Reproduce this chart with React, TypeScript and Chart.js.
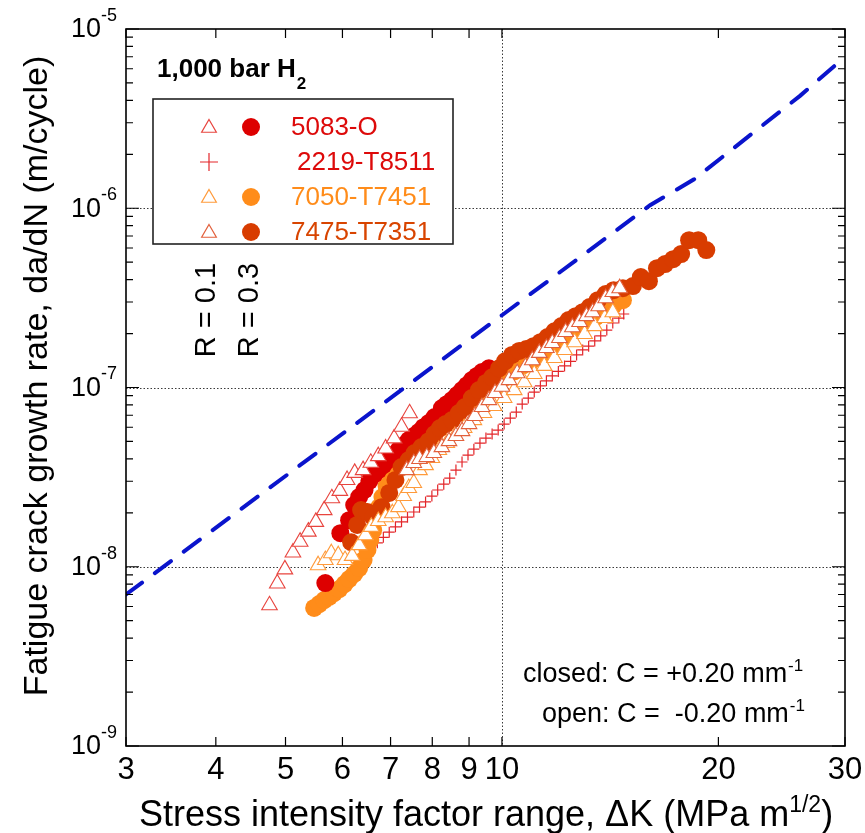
import React, { useEffect, useRef } from "react";
import { Chart, registerables } from "chart.js";

Chart.register(...registerables);

const FONT = '"Liberation Sans", Arial, Helvetica, sans-serif';

// ---- axis ticks ----
const xTickValues = [3, 4, 5, 6, 7, 8, 9, 10, 20, 30];
const xTickLabels = ["3", "4", "5", "6", "7", "8", "9", "10", "20", "30"];
const yDecades = [-9, -8, -7, -6, -5];
const yMinorMultipliers = [2, 3, 4, 5, 6, 7, 8, 9];
const yGridDecades = [-8, -7, -6];
const xGridValues = [10];

// ---- reference line (dashed blue) ----
const refLineK = [3, 10, 16.07, 18.5, 26, 30];
const refLineRate = [7.0e-9, 2.53e-7, 1.04e-6, 1.45e-6, 4.25e-6, 7.0e-6];

// ---- 5083-O ----
const k5083R01 = [4.75, 4.87, 4.99, 5.12, 5.24, 5.38, 5.51, 5.66, 5.8, 5.95, 6.09, 6.24, 6.41, 6.57, 6.73, 6.89, 7.08, 7.25, 7.44];
const rate5083R01 = [6.1e-9, 8.07e-9, 9.67e-9, 1.2e-8, 1.38e-8, 1.57e-8, 1.78e-8, 2.07e-8, 2.41e-8, 2.65e-8, 3.05e-8, 3.34e-8, 3.46e-8, 3.8e-8, 4.14e-8, 4.57e-8, 5.2e-8, 6.04e-8, 7.18e-8];
const k5083R03 = [5.68, 5.96, 6.13, 6.23, 6.33, 6.44, 6.54, 6.65, 6.73, 6.84, 6.95, 7.07, 7.18, 7.3, 7.42, 7.54, 7.66, 7.78, 7.91, 8.06, 8.25, 8.38, 8.52, 8.66, 8.8, 8.94, 9.08, 9.23, 9.38, 9.59];
const rate5083R03 = [8.11e-9, 1.54e-8, 1.82e-8, 2.21e-8, 2.45e-8, 2.68e-8, 3.01e-8, 3.29e-8, 3.46e-8, 3.69e-8, 3.94e-8, 4.2e-8, 4.48e-8, 4.77e-8, 5.09e-8, 5.36e-8, 5.64e-8, 6.01e-8, 6.33e-8, 6.84e-8, 7.68e-8, 8.07e-8, 8.51e-8, 9.07e-8, 9.67e-8, 1.03e-7, 1.1e-7, 1.16e-7, 1.22e-7, 1.28e-7];

// ---- 2219-T8511 (R = 0.1) ----
const k2219R01 = [6.71, 6.84, 6.97, 7.11, 7.25, 7.39, 7.54, 7.68, 7.83, 7.99, 8.14, 8.3, 8.46, 8.63, 8.8, 8.97, 9.14, 9.32, 9.5, 9.69, 9.88, 10.07, 10.27, 10.47, 10.67, 10.88, 11.09, 11.31, 11.53, 11.75, 11.98, 12.22, 12.46, 12.7, 12.95, 13.2, 13.46, 13.72, 13.99, 14.26, 14.54, 14.77];
const rate2219R01 = [1.36e-8, 1.46e-8, 1.56e-8, 1.67e-8, 1.78e-8, 1.89e-8, 2.02e-8, 2.15e-8, 2.3e-8, 2.48e-8, 2.68e-8, 2.89e-8, 3.12e-8, 3.46e-8, 3.84e-8, 4.2e-8, 4.53e-8, 4.9e-8, 5.22e-8, 5.5e-8, 5.79e-8, 6.25e-8, 6.75e-8, 7.29e-8, 8.08e-8, 8.73e-8, 9.43e-8, 1.02e-7, 1.09e-7, 1.16e-7, 1.23e-7, 1.32e-7, 1.4e-7, 1.52e-7, 1.62e-7, 1.7e-7, 1.82e-7, 1.94e-7, 2.09e-7, 2.29e-7, 2.44e-7, 2.57e-7];

// ---- 7050-T7451 ----
const k7050R01 = [5.55, 5.68, 5.79, 5.92, 6.05, 6.19, 6.33, 6.46, 6.58, 6.73, 6.89, 7.04, 7.18, 7.3, 7.42, 7.54, 7.68, 7.83, 7.99, 8.17, 8.38, 8.6, 8.86, 9.14, 9.44, 9.75, 10.07, 10.4, 10.74, 11.09, 11.45, 11.83, 12.22, 12.62, 13.03, 13.46, 13.9, 14.26];
const rate7050R01 = [1.02e-8, 1.09e-8, 1.19e-8, 1.16e-8, 1.09e-8, 1.15e-8, 1.32e-8, 1.5e-8, 1.67e-8, 1.8e-8, 1.89e-8, 1.99e-8, 2.15e-8, 2.48e-8, 2.75e-8, 2.93e-8, 3.46e-8, 3.69e-8, 4.04e-8, 4.48e-8, 4.9e-8, 5.36e-8, 5.94e-8, 6.58e-8, 7.2e-8, 7.88e-8, 8.73e-8, 9.67e-8, 1.07e-7, 1.19e-7, 1.32e-7, 1.46e-7, 1.62e-7, 1.79e-7, 1.99e-7, 2.2e-7, 2.44e-7, 2.63e-7];
const k7050R03 = [5.48, 5.57, 5.66, 5.75, 5.84, 5.94, 6.04, 6.13, 6.23, 6.33, 6.42, 6.5, 6.56, 6.62, 6.69, 6.75, 6.82, 6.91, 7.02, 7.16, 7.3, 7.49, 7.66, 7.83, 8.01, 8.2, 8.38, 8.6, 8.82, 9.08, 9.35, 9.59, 9.84, 10.1, 10.4, 10.7, 11.02, 11.35, 11.68, 12.02, 12.38, 12.74, 13.11, 13.5, 13.9, 14.3, 14.73];
const rate7050R03 = [5.89e-9, 6.19e-9, 6.52e-9, 6.78e-9, 7.13e-9, 7.51e-9, 8.01e-9, 8.54e-9, 9.11e-9, 9.83e-9, 1.09e-8, 1.24e-8, 1.41e-8, 1.6e-8, 1.87e-8, 2.15e-8, 2.45e-8, 2.82e-8, 3.25e-8, 3.79e-8, 4.2e-8, 4.65e-8, 5.02e-8, 5.36e-8, 5.71e-8, 6.09e-8, 6.66e-8, 7.39e-8, 7.98e-8, 8.5e-8, 8.95e-8, 9.43e-8, 1.03e-7, 1.14e-7, 1.23e-7, 1.33e-7, 1.42e-7, 1.52e-7, 1.66e-7, 1.79e-7, 1.94e-7, 2.09e-7, 2.29e-7, 2.47e-7, 2.67e-7, 2.88e-7, 3.07e-7];

// ---- 7475-T7351 ----
const k7475R01 = [7.37, 7.54, 7.68, 7.86, 8.04, 8.25, 8.44, 8.63, 8.8, 9.0, 9.17, 9.38, 9.59, 9.78, 10.0, 10.23, 10.5, 10.78, 11.02, 11.27, 11.53, 11.75, 12.02, 12.26, 12.53, 12.82, 13.11, 13.37, 13.63, 13.94, 14.26, 14.58];
const rate7475R01 = [3.46e-8, 3.79e-8, 3.99e-8, 4.09e-8, 4.31e-8, 4.65e-8, 5.02e-8, 5.36e-8, 5.71e-8, 6.25e-8, 6.93e-8, 7.78e-8, 8.5e-8, 9.31e-8, 1.01e-7, 1.1e-7, 1.2e-7, 1.3e-7, 1.42e-7, 1.56e-7, 1.66e-7, 1.77e-7, 1.89e-7, 2.04e-7, 2.17e-7, 2.32e-7, 2.5e-7, 2.63e-7, 2.84e-7, 3.15e-7, 3.41e-7, 3.58e-7];
const k7475R03 = [6.17, 6.29, 6.37, 6.5, 6.62, 6.8, 6.97, 7.11, 7.25, 7.42, 7.56, 7.73, 7.91, 8.06, 8.2, 8.35, 8.52, 8.71, 8.88, 9.08, 9.29, 9.5, 9.69, 9.91, 10.1, 10.33, 10.57, 10.81, 11.06, 11.31, 11.57, 11.83, 12.1, 12.38, 12.66, 12.95, 13.24, 13.59, 13.94, 14.3, 14.73, 15.21, 15.6, 16.01, 16.43, 16.86, 17.3, 17.75, 18.21, 18.75, 19.24];
const rate7475R03 = [1.37e-8, 1.71e-8, 2.07e-8, 2.02e-8, 1.89e-8, 2.15e-8, 2.58e-8, 3.05e-8, 3.6e-8, 3.94e-8, 4.31e-8, 4.65e-8, 5.02e-8, 5.5e-8, 5.94e-8, 6.25e-8, 6.58e-8, 7.2e-8, 7.78e-8, 8.73e-8, 9.67e-8, 1.06e-7, 1.14e-7, 1.28e-7, 1.4e-7, 1.52e-7, 1.6e-7, 1.64e-7, 1.7e-7, 1.79e-7, 1.91e-7, 2.06e-7, 2.2e-7, 2.38e-7, 2.5e-7, 2.63e-7, 2.81e-7, 3.07e-7, 3.32e-7, 3.49e-7, 3.58e-7, 3.68e-7, 4.13e-7, 3.92e-7, 4.63e-7, 4.88e-7, 5.2e-7, 5.55e-7, 6.64e-7, 6.64e-7, 5.84e-7];

// ---- colours ----
const C5083 = "#dd0000";
const C5083tri = "#e8443e";
const C2219 = "#e3262a";
const C7050 = "#ff8c1a";
const C7050tri = "#ff9a3a";
const C7475 = "#d83c00";
const C7475tri = "#e2603c";
const CBLUE = "#0a14cc";

const legendLabels = ["5083-O", "2219-T8511", "7050-T7451", "7475-T7351"];
const legendTextColors = ["#dd0a0a", "#dd0a0a", "#ff8c1a", "#d84400"];

function pts(xs: number[], ys: number[]) {
  return xs.map((x, i) => ({ x, y: ys[i] }));
}

function drawTri(ctx: CanvasRenderingContext2D, x: number, y: number, r: number, stroke: string) {
  ctx.beginPath();
  ctx.moveTo(x, y - r);
  ctx.lineTo(x + r * 0.866, y + r / 2);
  ctx.lineTo(x - r * 0.866, y + r / 2);
  ctx.closePath();
  ctx.fillStyle = "#fff";
  ctx.fill();
  ctx.strokeStyle = stroke;
  ctx.lineWidth = 1.2;
  ctx.stroke();
}
function drawDot(ctx: CanvasRenderingContext2D, x: number, y: number, r: number, fill: string) {
  ctx.beginPath();
  ctx.arc(x, y, r, 0, Math.PI * 2);
  ctx.fillStyle = fill;
  ctx.fill();
}
function drawPlus(ctx: CanvasRenderingContext2D, x: number, y: number, r: number, stroke: string) {
  ctx.beginPath();
  ctx.moveTo(x - r, y);
  ctx.lineTo(x + r, y);
  ctx.moveTo(x, y - r);
  ctx.lineTo(x, y + r);
  ctx.strokeStyle = stroke;
  ctx.lineWidth = 1.2;
  ctx.stroke();
}

const decor = {
  id: "decor",
  beforeDatasetsDraw(chart: any) {
    const { ctx, chartArea: a, scales } = chart;
    ctx.save();
    ctx.strokeStyle = "#3a3a3a";
    ctx.lineWidth = 1;
    ctx.setLineDash([1.5, 2]);
    for (const d of yGridDecades) {
      const py = Math.round(scales.y.getPixelForValue(Math.pow(10, d))) + 0.5;
      ctx.beginPath();
      ctx.moveTo(a.left, py);
      ctx.lineTo(a.right, py);
      ctx.stroke();
    }
    for (const v of xGridValues) {
      const px = Math.round(scales.x.getPixelForValue(v)) + 0.5;
      ctx.beginPath();
      ctx.moveTo(px, a.top);
      ctx.lineTo(px, a.bottom);
      ctx.stroke();
    }
    ctx.restore();
  },
  afterDatasetsDraw(chart: any) {
    const { ctx, chartArea: a, scales } = chart;
    const xs = scales.x;
    const ys = scales.y;
    ctx.save();
    ctx.setLineDash([]);
    ctx.strokeStyle = "#000";
    ctx.fillStyle = "#000";

    // ticks
    ctx.lineWidth = 1.2;
    for (let i = 0; i < yDecades.length; i++) {
      const d = yDecades[i];
      const py = ys.getPixelForValue(Math.pow(10, d));
      ctx.beginPath();
      ctx.moveTo(a.left, py);
      ctx.lineTo(a.left + 13, py);
      ctx.moveTo(a.right, py);
      ctx.lineTo(a.right - 13, py);
      ctx.stroke();
      if (i < yDecades.length - 1) {
        for (const m of yMinorMultipliers) {
          const pm = ys.getPixelForValue(m * Math.pow(10, d));
          ctx.beginPath();
          ctx.moveTo(a.left, pm);
          ctx.lineTo(a.left + 7, pm);
          ctx.moveTo(a.right, pm);
          ctx.lineTo(a.right - 7, pm);
          ctx.stroke();
        }
      }
    }
    for (const v of xTickValues) {
      const px = xs.getPixelForValue(v);
      ctx.beginPath();
      ctx.moveTo(px, a.bottom);
      ctx.lineTo(px, a.bottom - 9);
      ctx.moveTo(px, a.top);
      ctx.lineTo(px, a.top + 9);
      ctx.stroke();
    }

    // frame
    ctx.lineWidth = 1.6;
    ctx.strokeRect(a.left, a.top, a.right - a.left, a.bottom - a.top);

    // y tick labels 10^n
    for (const d of yDecades) {
      const py = ys.getPixelForValue(Math.pow(10, d));
      ctx.font = `27px ${FONT}`;
      ctx.textAlign = "right";
      ctx.textBaseline = "middle";
      ctx.fillText("10", 101, py + 1);
      ctx.font = `18px ${FONT}`;
      ctx.textAlign = "left";
      ctx.fillText(String(d), 101, py - 13);
    }

    // x tick labels
    ctx.font = `31px ${FONT}`;
    ctx.textAlign = "center";
    ctx.textBaseline = "middle";
    xTickValues.forEach((v, i) => {
      ctx.fillText(xTickLabels[i], xs.getPixelForValue(v), a.bottom + 24);
    });

    // x title with superscript
    {
      const main = "Stress intensity factor range, \u0394K (MPa m";
      const sup = "1/2";
      const end = ")";
      ctx.textAlign = "left";
      ctx.textBaseline = "alphabetic";
      ctx.font = `36px ${FONT}`;
      const w1 = ctx.measureText(main).width;
      const w3 = ctx.measureText(end).width;
      ctx.font = `23px ${FONT}`;
      const w2 = ctx.measureText(sup).width;
      const total = w1 + w2 + w3;
      const x0 = 486 - total / 2;
      const base = 826;
      ctx.font = `36px ${FONT}`;
      ctx.fillText(main, x0, base);
      ctx.font = `23px ${FONT}`;
      ctx.fillText(sup, x0 + w1, base - 14);
      ctx.font = `36px ${FONT}`;
      ctx.fillText(end, x0 + w1 + w2, base);
    }

    // y title
    ctx.save();
    ctx.translate(38, 376);
    ctx.rotate(-Math.PI / 2);
    ctx.font = `34px ${FONT}`;
    ctx.textAlign = "center";
    ctx.textBaseline = "middle";
    ctx.fillText("Fatigue crack growth rate, da/dN (m/cycle)", 0, 0);
    ctx.restore();

    // heading
    ctx.textAlign = "left";
    ctx.textBaseline = "alphabetic";
    ctx.font = `bold 26px ${FONT}`;
    const hw = ctx.measureText("1,000 bar H").width;
    ctx.fillText("1,000 bar H", 157, 77);
    ctx.font = `bold 17px ${FONT}`;
    ctx.fillText("2", 157 + hw + 1, 89);

    // legend box
    ctx.fillStyle = "#fff";
    ctx.fillRect(153, 99, 300, 145);
    ctx.strokeStyle = "#222";
    ctx.lineWidth = 1.6;
    ctx.strokeRect(153, 99, 300, 145);
    const rowY = [127, 162, 197, 232];
    drawTri(ctx, 209, rowY[0] + 1, 8.5, C5083tri);
    drawDot(ctx, 251, rowY[0], 9, C5083);
    drawPlus(ctx, 209, rowY[1], 9, C2219);
    drawTri(ctx, 209, rowY[2] + 1, 8.5, C7050tri);
    drawDot(ctx, 251, rowY[2], 9, C7050);
    drawTri(ctx, 209, rowY[3] + 1, 8.5, C7475tri);
    drawDot(ctx, 251, rowY[3], 9, C7475);
    ctx.font = `26px ${FONT}`;
    ctx.textBaseline = "middle";
    ctx.textAlign = "left";
    legendLabels.forEach((t, i) => {
      ctx.fillStyle = legendTextColors[i];
      ctx.fillText(t, i === 1 ? 297 : 291, rowY[i] + 1);
    });

    // R labels (rotated)
    ctx.fillStyle = "#000";
    for (const [txt, cx] of [["R = 0.1", 207], ["R = 0.3", 250]] as [string, number][]) {
      ctx.save();
      ctx.translate(cx, 310);
      ctx.rotate(-Math.PI / 2);
      ctx.font = `29px ${FONT}`;
      ctx.textAlign = "center";
      ctx.textBaseline = "middle";
      ctx.fillText(txt, 0, 0);
      ctx.restore();
    }

    // annotation
    ctx.textAlign = "left";
    ctx.textBaseline = "alphabetic";
    const lines: [string, number, number][] = [
      ["closed: C = +0.20 mm", 523, 682],
      ["open: C =  -0.20 mm", 542, 722],
    ];
    for (const [t, x, y] of lines) {
      ctx.font = `27px ${FONT}`;
      const w = ctx.measureText(t).width;
      ctx.fillText(t, x, y);
      ctx.font = `17px ${FONT}`;
      ctx.fillText("-1", x + w + 1, y - 11);
    }
    ctx.restore();
  },
};

export default function App() {
  const ref = useRef<HTMLCanvasElement>(null);
  useEffect(() => {
    const canvas = ref.current!;
    const circle = (data: any, color: string) => ({
      data,
      showLine: false,
      pointStyle: "circle",
      pointRadius: 9,
      backgroundColor: color,
      borderColor: color,
      borderWidth: 0,
    });
    const tri = (data: any, color: string) => ({
      data,
      showLine: false,
      pointStyle: "triangle",
      pointRadius: 9,
      backgroundColor: "#ffffff",
      borderColor: color,
      borderWidth: 1.1,
    });
    const chart = new Chart(canvas, {
      type: "scatter",
      data: {
        datasets: [
          {
            data: pts(refLineK, refLineRate),
            showLine: true,
            pointRadius: 0,
            borderColor: CBLUE,
            borderWidth: 4,
            borderDash: [20, 16],
            borderCapStyle: "round",
            fill: false,
            tension: 0,
          } as any,
          tri(pts(k5083R01, rate5083R01), C5083tri),
          tri(pts(k7475R01, rate7475R01), C7475tri),
          tri(pts(k7050R01, rate7050R01), C7050tri),
          circle(pts(k7475R03, rate7475R03), C7475),
          circle(pts(k5083R03, rate5083R03), C5083),
          circle(pts(k7050R03, rate7050R03), C7050),
          {
            data: pts(k2219R01, rate2219R01),
            showLine: false,
            pointStyle: "cross",
            pointRadius: 5.5,
            borderColor: C2219,
            backgroundColor: C2219,
            borderWidth: 1.2,
          } as any,
        ],
      },
      options: {
        animation: false,
        responsive: false,
        devicePixelRatio: 1,
        events: [],
        layout: { padding: { left: 126, top: 29, right: 20, bottom: 87 } },
        plugins: { legend: { display: false }, tooltip: { enabled: false } },
        scales: {
          x: { type: "logarithmic", min: 3, max: 30, display: false },
          y: { type: "logarithmic", min: 1e-9, max: 1e-5, display: false },
        },
      } as any,
      plugins: [decor],
    });
    return () => chart.destroy();
  }, []);
  return (
    <canvas
      ref={ref}
      width={865}
      height={833}
      style={{ position: "absolute", left: 0, top: 0, display: "block" }}
    />
  );
}
